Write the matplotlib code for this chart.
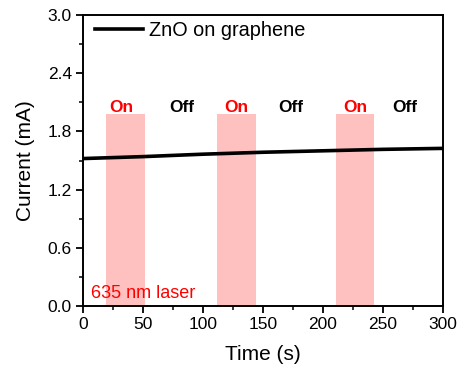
import matplotlib
matplotlib.use("Agg")
import matplotlib.pyplot as plt
from matplotlib.ticker import MultipleLocator, FormatStrFormatter

plt.rcParams['font.family'] = ['Liberation Sans', 'DejaVu Sans']

# Current trace under chopped illumination
time_s = [0, 50, 100, 150, 200, 250, 300]
current_mA = [1.52, 1.54, 1.565, 1.585, 1.60, 1.615, 1.625]

# Laser-on windows (start, end) in seconds and shading height
on_windows = [(19, 51.5), (112, 144.5), (211, 242.5)]
shade_top = 1.98

# State labels
state_x = [32, 82, 128, 173, 227, 268]
state_text = ["On", "Off", "On", "Off", "On", "Off"]
state_y = 2.05

fig = plt.figure(figsize=(4.62, 3.74), dpi=100)
ax = fig.add_axes([83 / 462, 1 - 306 / 374, 360 / 462, 291 / 374])

for a, b in on_windows:
    ax.axvspan(a, b, ymin=0, ymax=shade_top / 3.0, color='#ffc0c0', lw=0, zorder=1)

ax.plot(time_s, current_mA, color='black', lw=2.6, zorder=3, label='ZnO on graphene')

for x, t in zip(state_x, state_text):
    ax.text(x, state_y, t, color='#ff0000' if t == 'On' else 'black', fontweight='bold',
            fontsize=12.5, ha='center', va='center', zorder=4)

ax.text(7, 0.13, '635 nm laser', color='#ff0000', fontsize=13, ha='left', va='center', zorder=4)

ax.set_xlim(0, 300)
ax.set_ylim(0, 3.0)
ax.xaxis.set_major_locator(MultipleLocator(50))
ax.xaxis.set_minor_locator(MultipleLocator(25))
ax.yaxis.set_major_locator(MultipleLocator(0.6))
ax.yaxis.set_minor_locator(MultipleLocator(0.3))
ax.yaxis.set_major_formatter(FormatStrFormatter('%.1f'))
ax.tick_params(which='major', direction='out', length=5, width=1.3, labelsize=12.5, pad=3)
ax.tick_params(which='minor', direction='out', length=3, width=1.1)
for s in ax.spines.values():
    s.set_linewidth(1.4)

ax.set_xlabel('Time (s)', fontsize=15, labelpad=9)
ax.set_ylabel('Current (mA)', fontsize=15, labelpad=9)

leg = ax.legend(loc='upper left', frameon=False, fontsize=14.3, handlelength=2.4,
                borderaxespad=0.0, handletextpad=0.3, borderpad=0.2,
                bbox_to_anchor=(0.022, 0.992))

fig.savefig('out.png', dpi=100)
